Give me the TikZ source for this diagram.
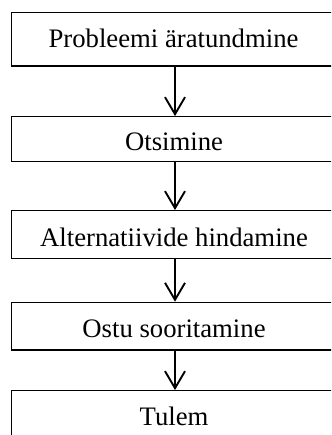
\documentclass[tikz,border=0pt]{standalone}
\usepackage{fontspec}
\setmainfont{Liberation Serif}
\usetikzlibrary{arrows.meta}
\begin{document}
\begin{tikzpicture}[x=1pt,y=-1pt,
  stagebox/.style={draw=black, line width=1.3pt, rectangle, minimum width=326.6pt, inner sep=0pt, anchor=center},
  stagetext/.style={anchor=base, inner sep=0pt, font=\fontsize{26.7}{32}\selectfont},
  flowarrow/.style={line width=1.9pt, -{Straight Barb[length=17pt, width=20pt, line width=1.9pt]}}]
\clip (0,0) rectangle (331,435);
\fill[white] (0,0) rectangle (331,435);
\node[stagebox, minimum height=53.7pt] (b1) at (175,39.15) {};
\node[stagebox, minimum height=45pt] (b2) at (175,139.2) {};
\node[stagebox, minimum height=47.6pt] (b3) at (175,234.5) {};
\node[stagebox, minimum height=47.7pt] (b4) at (175,326.2) {};
\node[stagebox, minimum height=46pt] (b5) at (175,413.7) {};
\node[stagetext] (t1) at (173.5,47.5) {Probleemi äratundmine};
\node[stagetext] (t2) at (174,150.7) {Otsimine};
\node[stagetext] (t3) at (174,246) {Alternatiivide hindamine};
\node[stagetext] (t4) at (174,337.5) {Ostu sooritamine};
\node[stagetext] (t5) at (174,425) {Tulem};
\draw[flowarrow] (b1.south) -- (b2.north);
\draw[flowarrow] (b2.south) -- (b3.north);
\draw[flowarrow] (b3.south) -- (b4.north);
\draw[flowarrow] (b4.south) -- (b5.north);
\end{tikzpicture}
\end{document}
